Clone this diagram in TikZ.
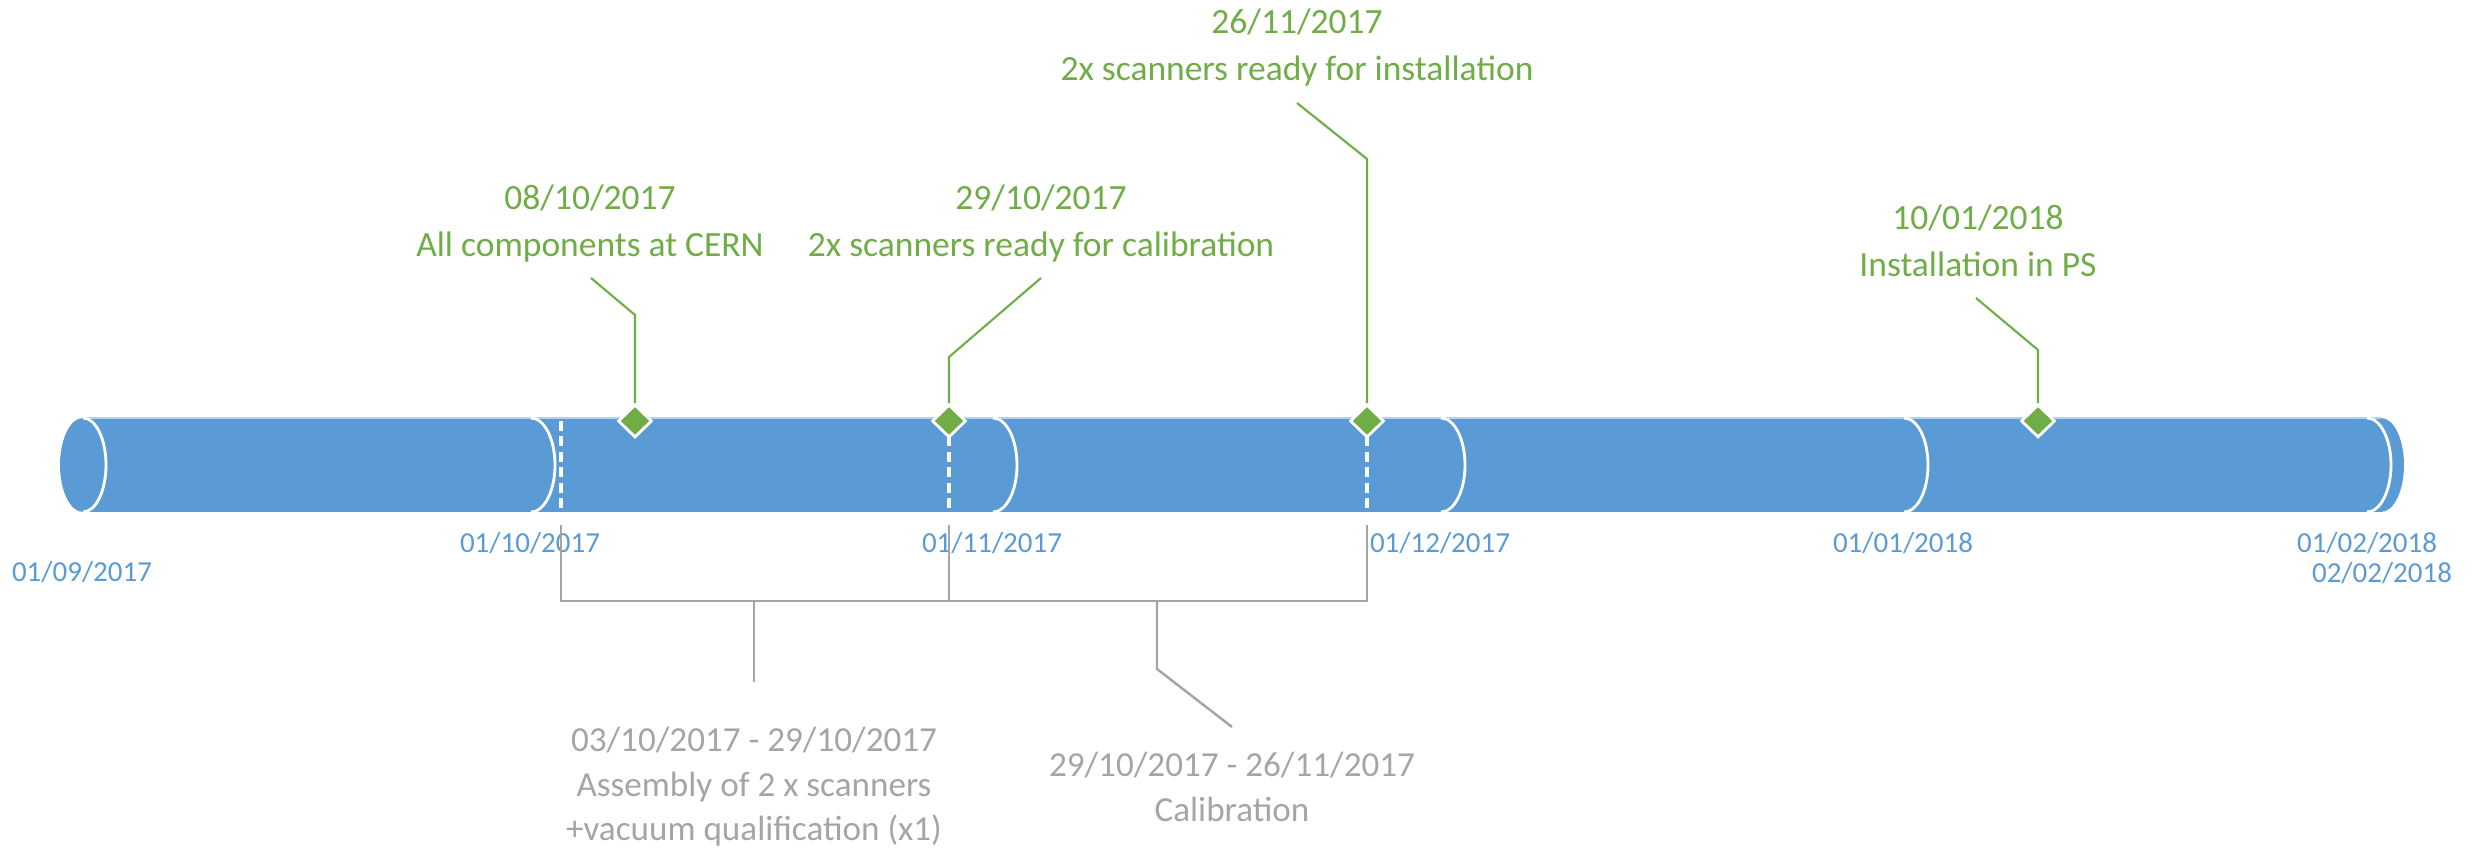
\documentclass[tikz,border=0pt]{standalone}
\usepackage{fontspec}
\setmainfont{Carlito}
\usetikzlibrary{shapes.geometric}
\definecolor{tlblue}{HTML}{5B9BD5}
\definecolor{tlgreen}{HTML}{70AD47}
\definecolor{tlgray}{HTML}{A5A5A5}
\tikzset{
	milestone/.style={diamond, fill=tlgreen, draw=white, line width=0.8pt, inner sep=0pt, minimum width=0.34cm, minimum height=0.33cm},
	leaderline/.style={draw=tlgreen, line width=0.6pt},
	spanline/.style={draw=tlgray, line width=0.7pt},
	monthedge/.style={draw=white, line width=0.8pt},
	cutline/.style={draw=white, line width=0.9pt, dash pattern=on 2.8pt off 1.6pt},
	monthlabel/.style={text=tlblue, font=\fontsize{8.25}{10}\selectfont, anchor=base, inner sep=0pt},
	mslabel/.style={text=tlgreen, font=\fontsize{10.1}{12}\selectfont, anchor=base, inner sep=0pt},
	spanlabel/.style={text=tlgray, font=\fontsize{10}{12}\selectfont, anchor=base, inner sep=0pt}
}

\begin{document}
\begin{tikzpicture}
			%%%%% START %%%%%
			\useasboundingbox (0, 0) rectangle (24.74, 8.49);
			
			% the tube
			\fill[tlblue] (0.83, 3.37) rectangle (23.81, 4.31);
			\fill[tlblue] (0.83, 3.84) ellipse (0.23 and 0.47);
			\fill[tlblue] (23.81, 4.31) arc (90:-90:0.23 and 0.47) -- cycle;
			\draw[white!55!tlblue, line width=0.4pt] (0.83, 4.31) -- (23.81, 4.31);
			
			\draw[monthedge] (0.83, 4.31) arc (90:-90:0.23 and 0.47);
			\draw[monthedge] (5.31, 4.31) arc (90:-90:0.24 and 0.47);
			\draw[monthedge] (9.93, 4.31) arc (90:-90:0.24 and 0.47);
			\draw[monthedge] (14.41, 4.31) arc (90:-90:0.24 and 0.47);
			\draw[monthedge] (19.04, 4.31) arc (90:-90:0.24 and 0.47);
			\draw[monthedge] (23.67, 4.31) arc (90:-90:0.24 and 0.47);
			
			\draw[cutline] (5.61, 4.28) -- (5.61, 3.37);
			\draw[cutline] (9.49, 4.28) -- (9.49, 3.37);
			\draw[cutline] (13.67, 4.28) -- (13.67, 3.37);
			
			% month dates
			\node[monthlabel] (sep) at (0.82, 2.675) {01/09/2017};
			\node[monthlabel] (oct) at (5.30, 2.965) {01/10/2017};
			\node[monthlabel] (nov) at (9.92, 2.965) {01/11/2017};
			\node[monthlabel] (dec) at (14.40, 2.965) {01/12/2017};
			\node[monthlabel] (jan) at (19.03, 2.965) {01/01/2018};
			\node[monthlabel] (feb) at (23.67, 2.965) {01/02/2018};
			\node[monthlabel] (fin) at (23.82, 2.665) {02/02/2018};
			
			% milestones
			\node[milestone] (comp) at (6.35, 4.28) {};
			\node[milestone] (calib) at (9.49, 4.28) {};
			\node[milestone] (ready) at (13.67, 4.28) {};
			\node[milestone] (inst) at (20.38, 4.28) {};
			
			\coordinate (compk) at (6.35, 5.34);
			\coordinate (compe) at (5.91, 5.71);
			\coordinate (calibk) at (9.49, 4.92);
			\coordinate (calibe) at (10.41, 5.71);
			\coordinate (readyk) at (13.67, 6.90);
			\coordinate (readye) at (12.97, 7.46);
			\coordinate (instk) at (20.38, 4.99);
			\coordinate (inste) at (19.76, 5.51);
			
			\draw[leaderline] (comp.north) -- (compk) -- (compe);
			\draw[leaderline] (calib.north) -- (calibk) -- (calibe);
			\draw[leaderline] (ready.north) -- (readyk) -- (readye);
			\draw[leaderline] (inst.north) -- (instk) -- (inste);
			
			\node[mslabel] (compd) at (5.90, 6.395) {08/10/2017};
			\node[mslabel] (compt) at (5.90, 5.925) {All components at CERN};
			\node[mslabel] (calibd) at (10.41, 6.395) {29/10/2017};
			\node[mslabel] (calibt) at (10.41, 5.925) {2x scanners ready for calibration};
			\node[mslabel] (readyd) at (12.97, 8.155) {26/11/2017};
			\node[mslabel] (readyt) at (12.97, 7.685) {2x scanners ready for installation};
			\node[mslabel] (instd) at (19.78, 6.195) {10/01/2018};
			\node[mslabel] (instt) at (19.78, 5.725) {Installation in PS};
			
			% spans below
			\coordinate (sa) at (5.61, 3.24);
			\coordinate (sb) at (9.49, 3.24);
			\coordinate (sc) at (13.67, 3.24);
			\coordinate (sa2) at (5.61, 2.48);
			\coordinate (sb2) at (9.49, 2.48);
			\coordinate (sc2) at (13.67, 2.48);
			\coordinate (asmk) at (7.54, 2.48);
			\coordinate (asme) at (7.54, 1.67);
			\coordinate (calk) at (11.57, 2.48);
			\coordinate (calm) at (11.57, 1.80);
			\coordinate (cale) at (12.32, 1.22);
			
			\draw[spanline] (sa) -- (sa2) -- (sc2) -- (sc);
			\draw[spanline] (sb) -- (sb2);
			\draw[spanline] (asmk) -- (asme);
			\draw[spanline] (calk) -- (calm) -- (cale);
			
			\node[spanlabel] (asmd) at (7.54, 0.97) {03/10/2017 - 29/10/2017};
			\node[spanlabel] (asmt) at (7.54, 0.52) {Assembly of 2 x scanners};
			\node[spanlabel] (asmv) at (7.54, 0.08) {+vacuum qualification (x1)};
			\node[spanlabel] (cald) at (12.32, 0.72) {29/10/2017 - 26/11/2017};
			\node[spanlabel] (calt) at (12.32, 0.27) {Calibration};
			
			%%%%% END %%%%%
\end{tikzpicture}
\end{document}
